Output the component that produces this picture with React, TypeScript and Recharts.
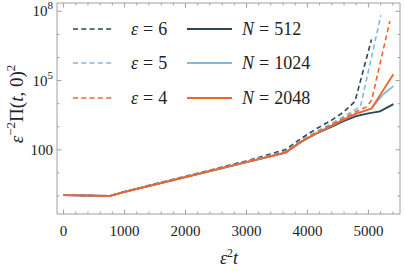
import React from "react";
import { LineChart, Line, XAxis, YAxis } from "recharts";

// eps^2 t positions and eps^-2 Pi(t,0)^2 values
const eps6X = [0, 750, 1000, 2000, 3000, 3640, 3900, 4150, 4400, 4600, 4780, 5050];
const eps6Y = [1.1, 1.0, 1.55, 7.2, 33, 102, 316, 830, 1950, 4470, 12600, 6.0e6];

const eps5X = [0, 750, 1000, 2000, 3000, 3640, 3900, 4150, 4400, 4600, 4870, 5205];
const eps5Y = [1.1, 1.0, 1.5, 6.9, 31, 89, 263, 630, 1410, 2820, 7600, 6.8e7];

const eps4X = [0, 750, 1000, 2000, 3000, 3640, 3900, 4150, 4400, 4600, 4800, 4970, 5052, 5352];
const eps4Y = [1.1, 1.0, 1.5, 6.7, 30, 83, 240, 560, 1260, 2400, 4570, 7240, 14100, 3.8e7];

const n512X = [0, 750, 1000, 2000, 3000, 3640, 3900, 4150, 4400, 4600, 4800, 5000, 5190, 5410];
const n512Y = [1.1, 1.0, 1.5, 6.6, 29, 76, 225, 510, 1000, 1780, 2880, 3800, 4680, 9550];

const n1024X = [0, 750, 1000, 2000, 3000, 3640, 3900, 4150, 4400, 4600, 4800, 5050, 5150, 5250, 5410];
const n1024Y = [1.1, 1.0, 1.5, 6.6, 29, 76, 230, 525, 1120, 2090, 3700, 6170, 13200, 26300, 57500];

const n2048X = [0, 750, 1000, 2000, 3000, 3640, 3900, 4150, 4400, 4600, 4800, 5050, 5410];
const n2048Y = [1.1, 1.0, 1.5, 6.6, 29, 76, 230, 525, 1120, 2090, 3700, 6170, 190000];

const xTicks = [
  0, 200, 400, 600, 800, 1000, 1200, 1400, 1600, 1800, 2000, 2200, 2400, 2600, 2800, 3000,
  3200, 3400, 3600, 3800, 4000, 4200, 4400, 4600, 4800, 5000, 5200, 5400,
];
const xLabels = [0, 1000, 2000, 3000, 4000, 5000];
const yTicks = [1, 10, 100, 1e3, 1e4, 1e5, 1e6, 1e7, 1e8];
const yLabels: Record<number, [string, string]> = { 100: ["100", ""], 1e5: ["10", "5"], 1e8: ["10", "8"] };

const DARK = "#2e4556";
const LIGHT = "#86b7d9";
const ORANGE = "#f1652b";
const FRAME = "#a0a0a0";
const FONT = "'Liberation Serif', 'DejaVu Serif', serif";

const zip = (xs: number[], ys: number[]) => xs.map((x, i) => ({ x, y: ys[i] }));

const series = [
  { key: "eps6", label: "ε", num: "6", data: zip(eps6X, eps6Y), color: DARK, dashed: true },
  { key: "eps5", label: "ε", num: "5", data: zip(eps5X, eps5Y), color: LIGHT, dashed: true },
  { key: "eps4", label: "ε", num: "4", data: zip(eps4X, eps4Y), color: ORANGE, dashed: true },
  { key: "n512", label: "N", num: "512", data: zip(n512X, n512Y), color: DARK, dashed: false },
  { key: "n1024", label: "N", num: "1024", data: zip(n1024X, n1024Y), color: LIGHT, dashed: false },
  { key: "n2048", label: "N", num: "2048", data: zip(n2048X, n2048Y), color: ORANGE, dashed: false },
];

const xDomain = [-108, 5518];
const yDomain = [0.166, 2.3e8];

function BottomTick({ x, y, payload }: any) {
  const v = payload.value;
  const major = xLabels.includes(v);
  return (
    <g>
      <line x1={x} x2={x} y1={y} y2={y - (major ? 4.5 : 2.5)} stroke={FRAME} />
      {major && (
        <text x={x} y={y + 22} textAnchor="middle" fontFamily={FONT} fontSize={15} fill="#222">
          {v}
        </text>
      )}
    </g>
  );
}

function TopTick({ x, y, payload }: any) {
  const major = xLabels.includes(payload.value);
  return <line x1={x} x2={x} y1={y} y2={y + (major ? 4.5 : 2.5)} stroke={FRAME} />;
}

function LeftTick({ x, y, payload }: any) {
  const lab = yLabels[payload.value];
  return (
    <g>
      <line x1={x} x2={x + (lab ? 4.5 : 2.5)} y1={y} y2={y} stroke={FRAME} />
      {lab && (
        <text x={x - 4} y={y + 5} textAnchor="end" fontFamily={FONT} fontSize={15} fill="#222">
          {lab[0]}
          {lab[1] && (
            <tspan fontSize={11} dy={-7}>
              {lab[1]}
            </tspan>
          )}
        </text>
      )}
    </g>
  );
}

function RightTick({ x, y, payload }: any) {
  const lab = yLabels[payload.value];
  return <line x1={x} x2={x - (lab ? 4.5 : 2.5)} y1={y} y2={y} stroke={FRAME} />;
}

function LegendItem({ s, left, top }: any) {
  return (
    <div style={{ position: "absolute", left, top: top - 11, height: 22, display: "flex", alignItems: "center" }}>
      <svg width={46} height={6} style={{ marginRight: s.dashed ? 12 : 9 }}>
        <line
          x1={0}
          x2={s.dashed ? 41 : 45}
          y1={3}
          y2={3}
          stroke={s.color}
          strokeWidth={s.dashed ? 1.6 : 1.8}
          strokeDasharray={s.dashed ? "5 3.3" : undefined}
        />
      </svg>
      <span style={{ fontFamily: FONT, fontSize: 18, color: "#222", whiteSpace: "nowrap" }}>
        <i>{s.label}</i>
        <span style={{ margin: "0 5px" }}>=</span>
        {s.num}
      </span>
    </div>
  );
}

export default function App() {
  const rows = [29, 63, 98];
  return (
    <div style={{ position: "absolute", left: 0, top: 0, width: 405, height: 271, background: "#fff" }}>
      <LineChart width={405} height={271} margin={{ top: 2, right: 4, left: 0, bottom: 0 }}>
        <XAxis
          dataKey="x"
          type="number"
          domain={xDomain}
          allowDataOverflow
          ticks={xTicks}
          interval={0}
          tickSize={0}
          tickMargin={0}
          tickLine={false}
          tick={<BottomTick />}
          height={57}
          stroke={FRAME}
        />
        <XAxis
          xAxisId="top"
          orientation="top"
          dataKey="x"
          type="number"
          domain={xDomain}
          allowDataOverflow
          ticks={xTicks}
          interval={0}
          tickSize={0}
          tickMargin={0}
          tickLine={false}
          tick={<TopTick />}
          height={1}
          stroke={FRAME}
        />
        <YAxis
          dataKey="y"
          type="number"
          scale="log"
          domain={yDomain}
          allowDataOverflow
          ticks={yTicks}
          interval={0}
          tickSize={0}
          tickMargin={0}
          tickLine={false}
          tick={<LeftTick />}
          width={57}
          stroke={FRAME}
        />
        <YAxis
          yAxisId="right"
          orientation="right"
          dataKey="y"
          type="number"
          scale="log"
          domain={yDomain}
          allowDataOverflow
          ticks={yTicks}
          interval={0}
          tickSize={0}
          tickMargin={0}
          tickLine={false}
          tick={<RightTick />}
          width={1}
          stroke={FRAME}
        />
        {series.map((s) => (
          <Line
            key={s.key}
            data={s.data}
            dataKey="y"
            type="linear"
            stroke={s.color}
            strokeWidth={s.dashed ? 1.6 : 1.8}
            strokeDasharray={s.dashed ? "5 3.3" : undefined}
            dot={false}
            activeDot={false}
            isAnimationActive={false}
          />
        ))}
      </LineChart>
      {series.map((s, i) => (
        <LegendItem key={s.key} s={s} left={i < 3 ? 73 : 187} top={rows[i % 3]} />
      ))}
      <div
        style={{
          position: "absolute",
          left: 15,
          top: 104,
          transform: "translate(-50%, -50%) rotate(-90deg)",
          fontFamily: FONT,
          fontSize: 19,
          color: "#222",
          whiteSpace: "nowrap",
          lineHeight: 1,
        }}
      >
        <i>ε</i>
        <sup style={{ fontSize: 13 }}>−2</sup>Π(<i>t</i>, 0)<sup style={{ fontSize: 13 }}>2</sup>
      </div>
      <div
        style={{
          position: "absolute",
          left: 229,
          top: 257,
          transform: "translate(-50%, -50%)",
          fontFamily: FONT,
          fontSize: 18,
          color: "#222",
          whiteSpace: "nowrap",
          lineHeight: 1,
        }}
      >
        <i>ε</i>
        <sup style={{ fontSize: 12 }}>2</sup>
        <i>t</i>
      </div>
    </div>
  );
}
